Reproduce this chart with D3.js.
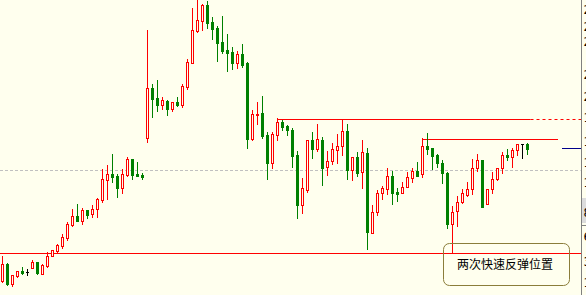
<!DOCTYPE html>
<html>
<head>
<meta charset="utf-8">
<script src="https://cdn.jsdelivr.net/npm/d3@7/dist/d3.min.js"></script>
<style>
    html, body { margin: 0; padding: 0; background: #ffffee; overflow: hidden; }
    svg { display: block; }
</style>
</head>
<body>
<div id="chart"></div>
<script>
// daily bars (oldest first)
const opens = [1.90, 3.60, 1.63, 2.43, 2.90, 2.80, 3.23, 3.80, 2.63, 3.43,
    4.37, 4.93, 5.43, 6.23, 7.53, 8.40, 7.93, 9.00, 8.57, 9.07,
    10.03, 12.03, 12.63, 12.40, 11.23, 12.53, 14.07, 12.63, 12.53, 16.17,
    21.17, 20.20, 19.53, 19.90, 19.13, 19.80, 19.53, 21.33, 23.73, 26.93,
    27.93, 29.50, 27.77, 27.20, 25.83, 25.00, 24.80, 23.73, 24.60, 23.70,
    16.10, 18.50, 18.70, 16.50, 13.70, 16.53, 17.80, 17.40, 17.00, 14.50,
    9.53, 11.00, 16.00, 15.13, 16.00, 13.27, 13.87, 15.03, 15.37, 16.90,
    12.97, 14.30, 12.77, 14.70, 6.73, 8.83, 10.67, 11.07, 12.40, 10.83,
    10.67, 11.27, 12.17, 12.90, 12.57, 15.40, 15.20, 14.50, 13.73, 12.70,
    7.63, 8.87, 9.77, 10.53, 11.07, 13.17, 13.97, 9.57, 11.13, 12.13,
    13.17, 14.50, 14.30, 14.97, 15.57, 15.60];
const highs = [4.40, 3.70, 2.47, 2.87, 3.30, 3.07, 4.00, 3.80, 3.57, 4.77,
    4.97, 5.60, 6.57, 7.80, 9.07, 9.60, 9.17, 9.00, 9.50, 10.17,
    13.10, 13.50, 14.60, 12.60, 13.07, 14.30, 14.07, 13.80, 12.67, 27.00,
    21.60, 22.00, 20.27, 20.00, 19.80, 20.27, 21.60, 24.13, 29.20, 30.00,
    29.60, 29.90, 28.33, 27.40, 28.40, 26.60, 25.30, 24.87, 25.60, 23.80,
    19.00, 19.80, 20.40, 16.80, 16.80, 18.23, 18.00, 17.47, 17.20, 14.90,
    12.20, 16.00, 16.80, 17.60, 16.27, 14.90, 15.70, 16.60, 18.10, 17.60,
    14.27, 14.80, 16.00, 15.20, 9.50, 11.00, 11.40, 13.17, 12.90, 11.23,
    11.83, 12.80, 13.20, 13.80, 16.20, 16.73, 15.20, 14.60, 14.03, 12.77,
    9.40, 10.40, 11.13, 11.83, 14.10, 14.60, 14.00, 11.13, 12.83, 13.17,
    14.77, 15.10, 15.17, 15.60, 15.60, 15.73];
const lows = [1.80, 1.53, 1.43, 2.27, 2.60, 2.50, 3.17, 2.60, 2.63, 3.33,
    4.37, 4.83, 5.23, 6.03, 7.43, 7.90, 7.63, 8.23, 8.33, 8.33,
    9.77, 10.10, 11.83, 10.33, 10.73, 12.40, 12.13, 12.37, 12.13, 15.83,
    18.33, 18.93, 19.13, 18.53, 18.87, 19.40, 19.33, 21.13, 23.67, 26.80,
    27.00, 27.20, 26.13, 23.93, 24.67, 22.93, 23.13, 23.23, 23.33, 15.23,
    16.03, 17.63, 16.23, 12.10, 13.23, 16.00, 17.00, 16.53, 13.33, 8.23,
    8.70, 10.80, 14.23, 14.93, 11.53, 12.53, 13.60, 13.67, 14.53, 12.10,
    12.03, 12.37, 11.23, 5.13, 6.73, 8.50, 10.10, 10.63, 9.63, 9.93,
    10.67, 11.27, 11.83, 12.43, 12.33, 14.63, 13.10, 13.27, 11.73, 7.23,
    4.67, 7.43, 9.67, 10.43, 10.57, 12.93, 9.33, 9.57, 10.67, 12.03,
    12.73, 14.03, 13.33, 14.53, 14.20, 14.63];
const closes = [3.57, 1.60, 2.47, 2.87, 2.70, 2.80, 3.80, 2.67, 3.50, 4.40,
    4.97, 5.50, 6.30, 7.60, 8.37, 7.93, 9.00, 8.50, 9.07, 10.07,
    12.07, 12.60, 12.33, 11.23, 12.60, 14.07, 12.53, 12.43, 12.33, 21.17,
    20.13, 19.53, 20.00, 19.10, 19.77, 19.53, 21.40, 23.80, 27.00, 28.00,
    29.50, 27.73, 27.13, 25.73, 24.93, 24.73, 23.73, 24.60, 23.50, 16.13,
    18.60, 18.60, 16.40, 13.70, 16.60, 17.80, 17.30, 17.00, 14.40, 9.50,
    11.17, 15.97, 15.13, 16.10, 13.23, 13.87, 15.07, 15.37, 16.87, 12.97,
    14.27, 12.73, 14.77, 6.83, 8.80, 10.70, 11.23, 12.40, 10.73, 10.63,
    11.27, 12.30, 12.87, 12.43, 15.37, 15.13, 14.43, 13.73, 12.73, 7.63,
    8.80, 9.80, 10.73, 11.07, 13.17, 13.97, 9.33, 11.13, 12.13, 13.17,
    14.50, 14.30, 14.97, 15.57, 15.57, 15.10];

// drawn levels: price, first bar, last bar (null = to the axis)
const supportLevel = 4.67;
const refLevel = 12.97;
const upperLevel = { price: 18.10, from: 55, solidTo: 105.6 };
const midLevel = { price: 16.10, from: 84, to: 111.1 };
const markerLevel = { price: 15.20, from: 111.9 };

// right axis labels (mostly cut off by the window edge)
const axisLabels = ["29.00", "27.30", "25.80", "22.50", "20.30", "18.20", "15.80",
    "13.70", "11.70", "8.70", "6.30", "3.80", "1.70"];
const noteText = "两次快速反弹位置";

const width = 586;
const height = 295;
const axisX = 581.5;
const bg = "#ffffee";
const upColor = "#ff0000";
const downColor = "#008000";

const bars = opens.map((o, i) => ({ i, o, h: highs[i], l: lows[i], c: closes[i] }));

const x = d3.scaleLinear().domain([0, bars.length - 1]).range([2.5, 2.5 + 5 * (bars.length - 1)]);
const y = d3.scaleLinear().domain([30, 0.5]).range([0, height]);
const py = v => Math.round(y(v)) + 0.5;

const svg = d3.select("#chart")
    .append("svg")
    .attr("width", width)
    .attr("height", height);

svg.append("rect")
    .attr("width", width)
    .attr("height", height)
    .attr("fill", bg);

// reference dashed line
svg.append("line")
    .attr("x1", 0).attr("x2", axisX - 1)
    .attr("y1", py(refLevel)).attr("y2", py(refLevel))
    .attr("stroke", "#c0c0c0")
    .attr("stroke-dasharray", "3,2");

// support line
svg.append("line")
    .attr("x1", 0).attr("x2", axisX)
    .attr("y1", py(supportLevel)).attr("y2", py(supportLevel))
    .attr("stroke", "#ff0000");

// upper resistance, solid then dashed to the axis
svg.append("line")
    .attr("x1", x(upperLevel.from)).attr("x2", x(upperLevel.solidTo))
    .attr("y1", py(upperLevel.price)).attr("y2", py(upperLevel.price))
    .attr("stroke", "#ff0000");
svg.append("line")
    .attr("x1", x(upperLevel.solidTo)).attr("x2", axisX)
    .attr("y1", py(upperLevel.price)).attr("y2", py(upperLevel.price))
    .attr("stroke", "#ff0000")
    .attr("stroke-dasharray", "3,3");

svg.append("line")
    .attr("x1", x(midLevel.from)).attr("x2", x(midLevel.to))
    .attr("y1", py(midLevel.price)).attr("y2", py(midLevel.price))
    .attr("stroke", "#ff0000");

svg.append("line")
    .attr("x1", x(markerLevel.from)).attr("x2", axisX)
    .attr("y1", py(markerLevel.price)).attr("y2", py(markerLevel.price))
    .attr("stroke", "#00008b");

// candles
const colorOf = d => d.c > d.o ? upColor : d.c < d.o ? downColor : "#000000";

const candle = svg.append("g")
    .selectAll("g")
    .data(bars)
    .enter().append("g");

candle.append("line")
    .attr("x1", d => x(d.i)).attr("x2", d => x(d.i))
    .attr("y1", d => Math.round(y(d.h)))
    .attr("y2", d => Math.round(y(d.l)) + 1)
    .attr("stroke", colorOf);

candle.filter(d => d.c !== d.o).append("rect")
    .attr("x", d => x(d.i) - 1)
    .attr("width", 2)
    .attr("y", d => py(Math.max(d.o, d.c)))
    .attr("height", d => Math.max(1, py(Math.min(d.o, d.c)) - py(Math.max(d.o, d.c))))
    .attr("fill", d => d.c > d.o ? bg : downColor)
    .attr("stroke", colorOf);

candle.filter(d => d.c === d.o).append("line")
    .attr("x1", d => x(d.i) - 1.5).attr("x2", d => x(d.i) + 1.5)
    .attr("y1", d => py(d.o)).attr("y2", d => py(d.o))
    .attr("stroke", "#000000");

// right axis
svg.append("line")
    .attr("x1", axisX).attr("x2", axisX)
    .attr("y1", 0).attr("y2", height)
    .attr("stroke", "#808080");

svg.append("rect")
    .attr("x", axisX + 0.5).attr("y", 198)
    .attr("width", 6).attr("height", 25)
    .attr("fill", "#dcdcdc");
svg.append("line")
    .attr("x1", axisX).attr("x2", width)
    .attr("y1", 225.5).attr("y2", 225.5)
    .attr("stroke", "#808080");

svg.append("g")
    .selectAll("text")
    .data(axisLabels)
    .enter().append("text")
    .attr("x", axisX + 2)
    .attr("y", d => y(+d))
    .attr("dy", "0.35em")
    .style("font-family", "'DejaVu Sans', sans-serif")
    .style("font-size", "12px")
    .attr("fill", "#000")
    .text(d => d);

// note box
const note = svg.append("g");
note.append("rect")
    .attr("x", 443.5).attr("y", 243.5)
    .attr("width", 126).attr("height", 42)
    .attr("rx", 6).attr("ry", 6)
    .attr("fill", "none")
    .attr("stroke", "#8b7d3a");
note.append("text")
    .attr("x", 505)
    .attr("y", 265)
    .attr("dy", "0.35em")
    .attr("text-anchor", "middle")
    .style("font-family", "'Noto Sans CJK SC', sans-serif")
    .style("font-size", "12px")
    .attr("fill", "#000")
    .text(noteText);
</script>
</body>
</html>
